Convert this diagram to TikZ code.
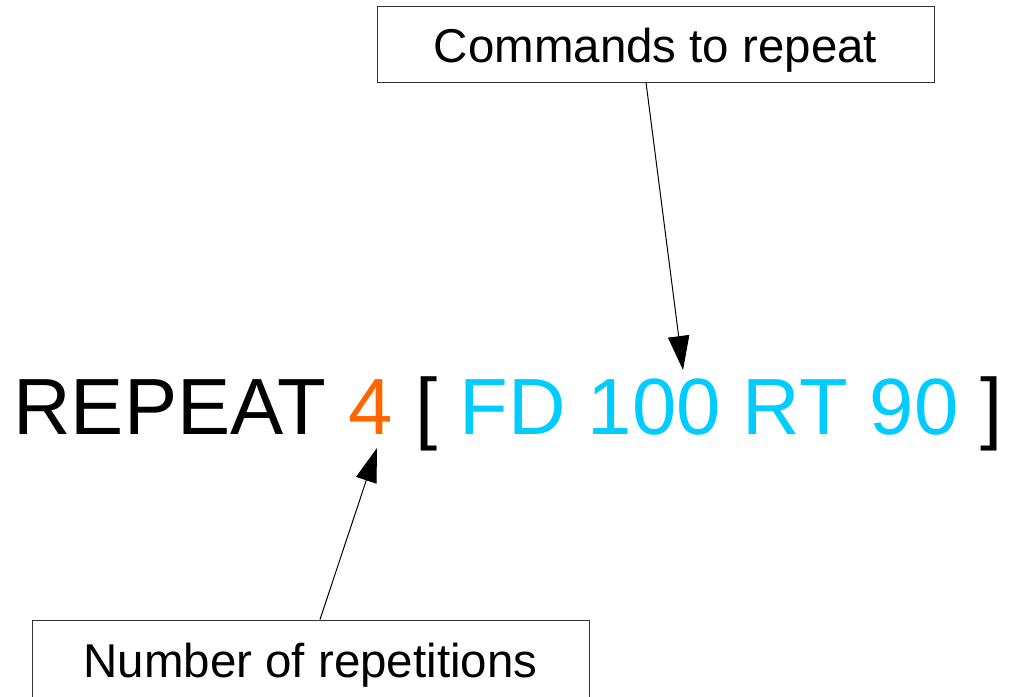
\documentclass[tikz,border=0pt]{standalone}
\usepackage{fontspec}
\setmainfont{Liberation Sans}
\usetikzlibrary{arrows.meta}
\definecolor{numorange}{HTML}{FF6600}
\definecolor{cmdcyan}{HTML}{00CCFF}
\tikzset{
  labelbox/.style={draw=black!80, line width=0.75pt, minimum width=557*0.75pt, minimum height=76*0.75pt, inner sep=0pt, text depth=0pt, font=\fontsize{35.6pt}{40pt}\selectfont},
  pointer/.style={line width=0.75pt, -{Triangle[length=25.5pt,width=16pt]}}
}
\begin{document}
\begin{tikzpicture}[x=0.75pt,y=-0.75pt]
\useasboundingbox (0,0) rectangle (1009,696);
\node[labelbox, text height=27pt] (cmd) at (655.5,44) {Commands to repeat};
\node[labelbox, text height=24pt, minimum height=82*0.75pt] (num) at (310.5,661) {Number of repetitions};
\node[anchor=base west, inner sep=0pt, font=\fontsize{59.8pt}{66pt}\selectfont] (code) at (13,434)
  {REPEAT \textcolor{numorange}{4} [ \textcolor{cmdcyan}{FD 100 RT 90} ]};
\coordinate (tipcmd) at (683,370);
\coordinate (tipnum) at (377,448);
\draw[pointer] (cmd.south -| 646,0) -- (tipcmd);
\draw[pointer] (num.north -| 320,0) -- (tipnum);
\end{tikzpicture}
\end{document}
